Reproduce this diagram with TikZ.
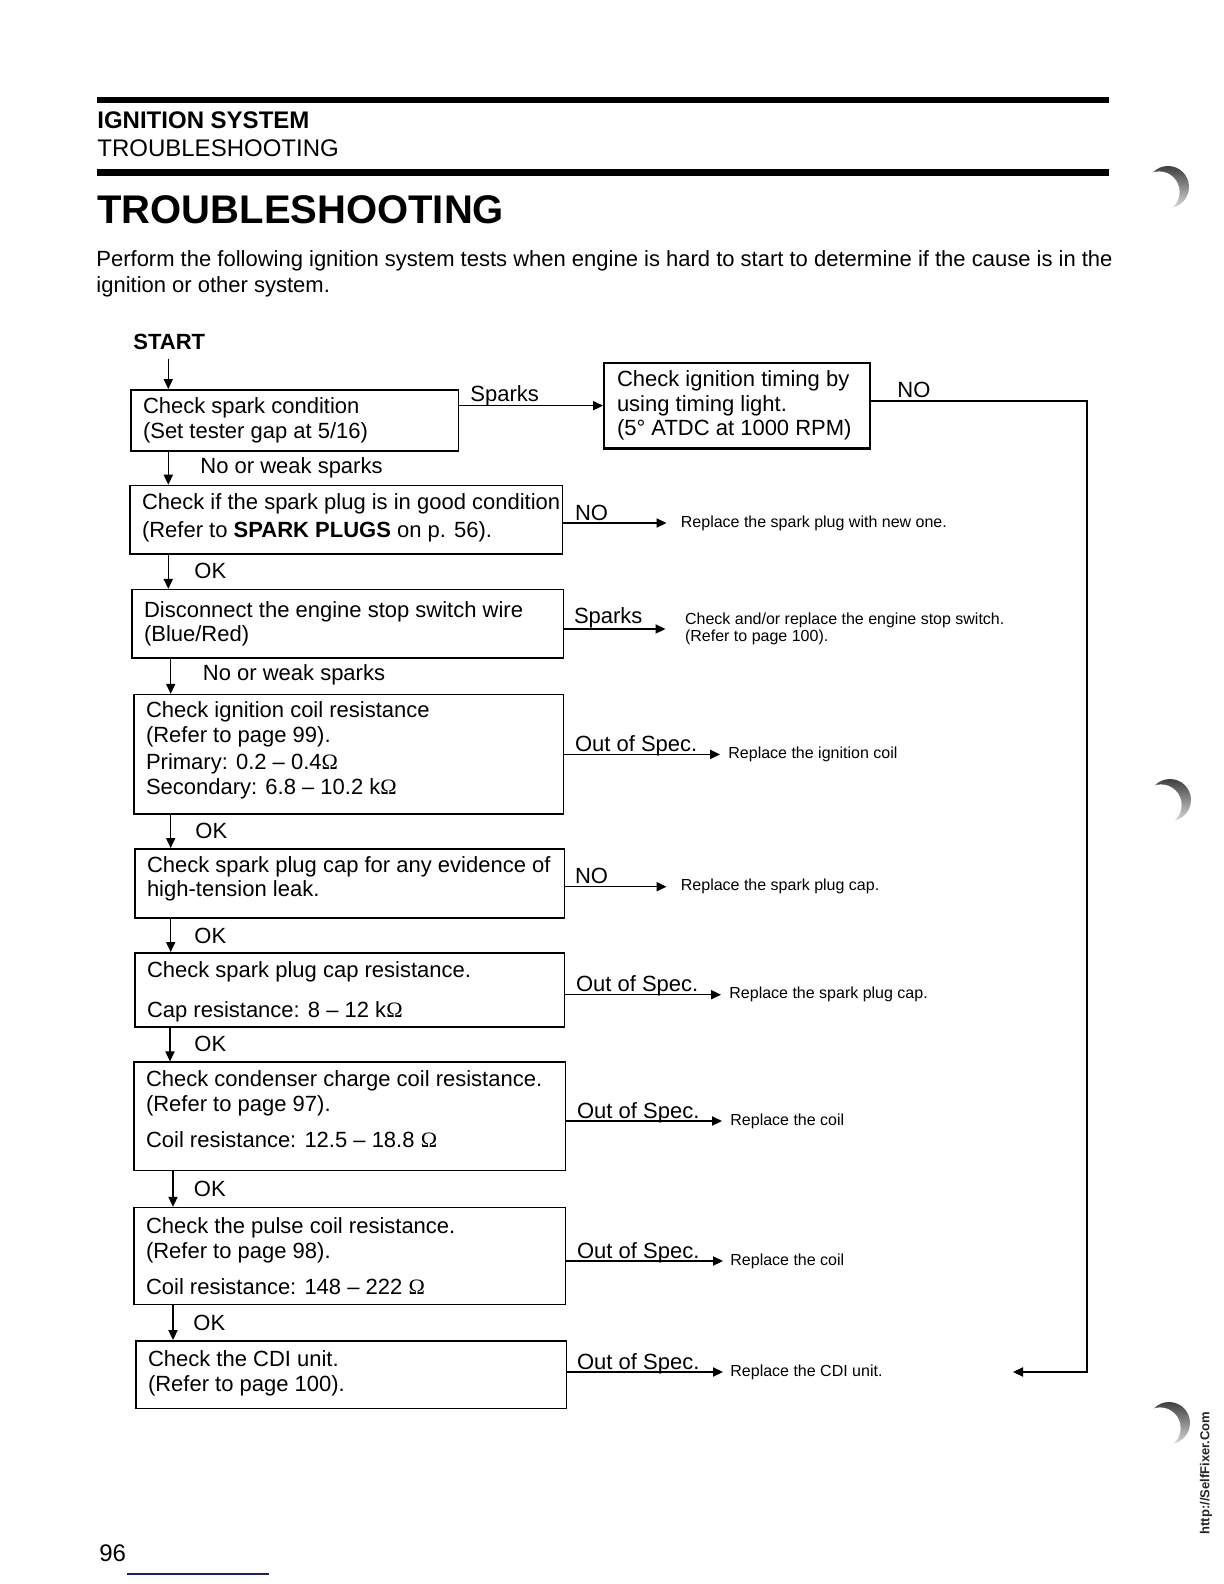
\documentclass[tikz,border=0pt]{standalone}
\usepackage{fontspec}
\setmainfont{Liberation Sans}
\newfontfamily\omegafont{Liberation Serif}
\usetikzlibrary{arrows.meta,calc}
\newcommand{\Ohm}{{\omegafont Ω}}
\definecolor{navyline}{RGB}{25,25,130}
\begin{document}
\begin{tikzpicture}[x=0.5pt,y=-0.5pt,
  box/.style={draw, line width=0.75pt, inner sep=0, anchor=north west},
  btext/.style={anchor=west, align=left, inner sep=0, font=\fontsize{11}{12.3}\selectfont},
  lbl/.style={anchor=base west, inner sep=0, font=\fontsize{11}{13}\selectfont},
  small/.style={anchor=west, align=left, inner ysep=0, font=\fontsize{8}{8.2}\selectfont},
  arr/.style={line width=0.65pt, -{Triangle[length=5pt,width=4.6pt]}},
  hrule/.style={fill=black, inner sep=0, anchor=north west, minimum width=506pt}
]
\fill[white] (0,0) rectangle (1224,1584);
\useasboundingbox (0,0) rectangle (1224,1584);

% header
\node[hrule, minimum height=3pt] (rule1) at (97,97) {};
\node[lbl, font=\bfseries\fontsize{12}{14}\selectfont] (h1) at (97,128) {IGNITION SYSTEM};
\node[lbl, font=\fontsize{12}{14}\selectfont] (h2) at (97,156.5) {TROUBLESHOOTING};
\node[hrule, minimum height=3.5pt] (rule2) at (97,168.5) {};
\node[lbl, font=\bfseries\fontsize{20}{24}\selectfont] (title) at (97,223) {TROUBLESHOOTING};
\node[anchor=north west, align=left, inner sep=0, font=\fontsize{11}{13.2}\selectfont] (intro) at (96,250)
  {Perform the following ignition system tests when engine is hard to start to determine if the cause is in the\\ignition or other system.};
\node[lbl, font=\bfseries\fontsize{11}{13}\selectfont] (start) at (133,349) {START};

% boxes
\node[box, minimum width=163.75pt, minimum height=30.7pt] (B1) at (130,389) {};
\node[btext] (B1t) at ([xshift=6.3pt]B1.west) {Check spark condition\\(Set tester gap at 5/16)};

\node[box, line width=1.2pt, minimum width=132.75pt, minimum height=42.95pt] (T) at (603,361.5) {};
\node[btext] (Tt) at ([xshift=6.8pt]T.west) {Check ignition timing by\\using timing light.\\(5° ATDC at 1000 RPM)};

\node[box, minimum width=216.25pt, minimum height=34.35pt] (B2) at (129,484.7) {};
\node[btext] (B2t) at ([xshift=6.3pt,yshift=1pt]B2.west) {Check if the spark plug is in good condition\\[1.7pt](Refer to \textbf{SPARK PLUGS} on p. 56).};

\node[box, minimum width=215.75pt, minimum height=34.3pt] (B3) at (131,588.8) {};
\node[btext] (B3t) at ([xshift=6.3pt]B3.west) {Disconnect the engine stop switch wire\\(Blue/Red)};

\node[box, minimum width=214.75pt, minimum height=59.6pt] (B4) at (133,693.8) {};
\node[btext] (B4t) at ([xshift=6.3pt,yshift=2pt]B4.west) {Check ignition coil resistance\\(Refer to page 99).\\[1.5pt]Primary: 0.2 – 0.4\Ohm\\Secondary: 6.8 – 10.2 k\Ohm};

\node[box, minimum width=214.75pt, minimum height=34.5pt] (B5) at (134,848) {};
\node[btext] (B5t) at ([xshift=6.3pt,yshift=2.3pt]B5.west) {Check spark plug cap for any evidence of\\high-tension leak.};

\node[box, minimum width=214.75pt, minimum height=37pt] (B6) at (134,952) {};
\node[btext] (B6t) at ([xshift=6.3pt,yshift=-1pt]B6.west) {Check spark plug cap resistance.\\[7.5pt]Cap resistance: 8 – 12 k\Ohm};

\node[box, minimum width=215.75pt, minimum height=54.05pt] (B7) at (133,1061.4) {};
\node[btext] (B7t) at ([xshift=6.3pt,yshift=3.5pt]B7.west) {Check condenser charge coil resistance.\\(Refer to page 97).\\[5.7pt]Coil resistance: 12.5 – 18.8 \Ohm};

\node[box, minimum width=215.75pt, minimum height=48.5pt] (B8) at (133,1206.8) {};
\node[btext] (B8t) at ([xshift=6.3pt]B8.west) {Check the pulse coil resistance.\\(Refer to page 98).\\[5.5pt]Coil resistance: 148 – 222 \Ohm};

\node[box, minimum width=215.25pt, minimum height=33.9pt] (B9) at (135,1340) {};
\node[btext] (B9t) at ([xshift=6.3pt,yshift=0.8pt]B9.west) {Check the CDI unit.\\(Refer to page 100).};

% vertical flow
\coordinate (s0) at (168.3,358.5);
\draw[arr] (s0) -- (s0 |- B1.north);
\coordinate (a1) at (168.3,0);
\coordinate (a2) at (168.3,0);
\coordinate (a3) at (170.7,0);
\coordinate (a4) at (170.7,0);
\coordinate (a5) at (170.7,0);
\coordinate (a6) at (170,0);
\coordinate (a7) at (173,0);
\coordinate (a8) at (173,0);
\draw[arr] (a1 |- B1.south) -- (a1 |- B2.north);
\draw[arr] (a2 |- B2.south) -- (a2 |- B3.north);
\draw[arr] (a3 |- B3.south) -- (a3 |- B4.north);
\draw[arr] (a4 |- B4.south) -- (a4 |- B5.north);
\draw[arr] (a5 |- B5.south) -- (a5 |- B6.north);
\draw[arr] (a6 |- B6.south) -- (a6 |- B7.north);
\draw[arr] (a7 |- B7.south) -- (a7 |- B8.north);
\draw[arr] (a8 |- B8.south) -- (a8 |- B9.north);
\node[lbl] (l1) at (200,473.5) {No or weak sparks};
\node[lbl] (l2) at (194,578.5) {OK};
\node[lbl] (l3) at (202.5,680) {No or weak sparks};
\node[lbl] (l4) at (195,838) {OK};
\node[lbl] (l5) at (194,943) {OK};
\node[lbl] (l6) at (194,1051.5) {OK};
\node[lbl] (l7) at (193.5,1196.5) {OK};
\node[lbl] (l8) at (193,1330) {OK};

% sparks to timing
\draw[arr] (B1.east |- T.west) -- (T.west);
\node[lbl] (sp1) at (470,401) {Sparks};

% timing NO loop to CDI
\coordinate (c1) at (1087,401);
\coordinate (c2) at (1087,1372);
\coordinate (c3) at (1013,1372);
\draw[arr] (T.east |- c1) -- (c1) -- (c2) -- (c3);
\node[lbl] (no0) at (897,397.5) {NO};

% right branches
\node[small, inner xsep=7pt] (r2) at (666.5,523) {Replace the spark plug with new one.};
\draw[arr] (B2.east |- r2.west) -- (r2.west);
\node[lbl] (n2) at (574.6,520) {NO};

\node[small, inner xsep=9.6pt] (r3) at (665.5,629) {Check and/or replace the engine stop switch.\\(Refer to page 100).};
\draw[arr] (B3.east |- r3.west) -- (r3.west);
\node[lbl] (n3) at (573.6,623) {Sparks};

\node[small, inner xsep=4pt] (r4) at (720,754.4) {Replace the ignition coil};
\draw[arr] (B4.east |- r4.west) -- (r4.west);
\node[lbl] (n4) at (574.6,751.5) {Out of Spec.};

\node[small, inner xsep=7pt] (r5) at (666.5,886.7) {Replace the spark plug cap.};
\draw[arr] (B5.east |- r5.west) -- (r5.west);
\node[lbl] (n5) at (574.6,883.5) {NO};

\node[small, inner xsep=4pt] (r6) at (721,994.7) {Replace the spark plug cap.};
\draw[arr] (B6.east |- r6.west) -- (r6.west);
\node[lbl] (n6) at (575.6,991.5) {Out of Spec.};

\node[small, inner xsep=4pt] (r7) at (722,1121) {Replace the coil};
\draw[arr] (B7.east |- r7.west) -- (r7.west);
\node[lbl] (n7) at (576.7,1118) {Out of Spec.};

\node[small, inner xsep=3.5pt] (r8) at (723,1261) {Replace the coil};
\draw[arr] (B8.east |- r8.west) -- (r8.west);
\node[lbl] (n8) at (576.7,1258) {Out of Spec.};

\node[small, inner xsep=3.5pt] (r9) at (723,1372) {Replace the CDI unit.};
\draw[arr] (B9.east |- r9.west) -- (r9.west);
\node[lbl] (n9) at (576.7,1369) {Out of Spec.};

% footer
\node[lbl, font=\fontsize{12}{14}\selectfont] (pg) at (99,1561.5) {96};
\node[fill=navyline, inner sep=0, minimum width=70.65pt, minimum height=0.8pt, anchor=west] (bl) at (127,1574) {};
\node[rotate=90, inner sep=0, font=\bfseries\fontsize{6.5}{8}\selectfont, text=black!85] (wm) at (1206,1473) {http://SelfFixer.Com};

% scan binder-hole shadows
\foreach \cx/\cy in {1168/187, 1170/800, 1169/1423}{
  \shade[top color=black!75, bottom color=black!15] (\cx,\cy) circle[radius=10.5pt];
  \fill[white] (\cx-9,\cy+5) circle[radius=10.3pt];
}
\end{tikzpicture}
\end{document}
